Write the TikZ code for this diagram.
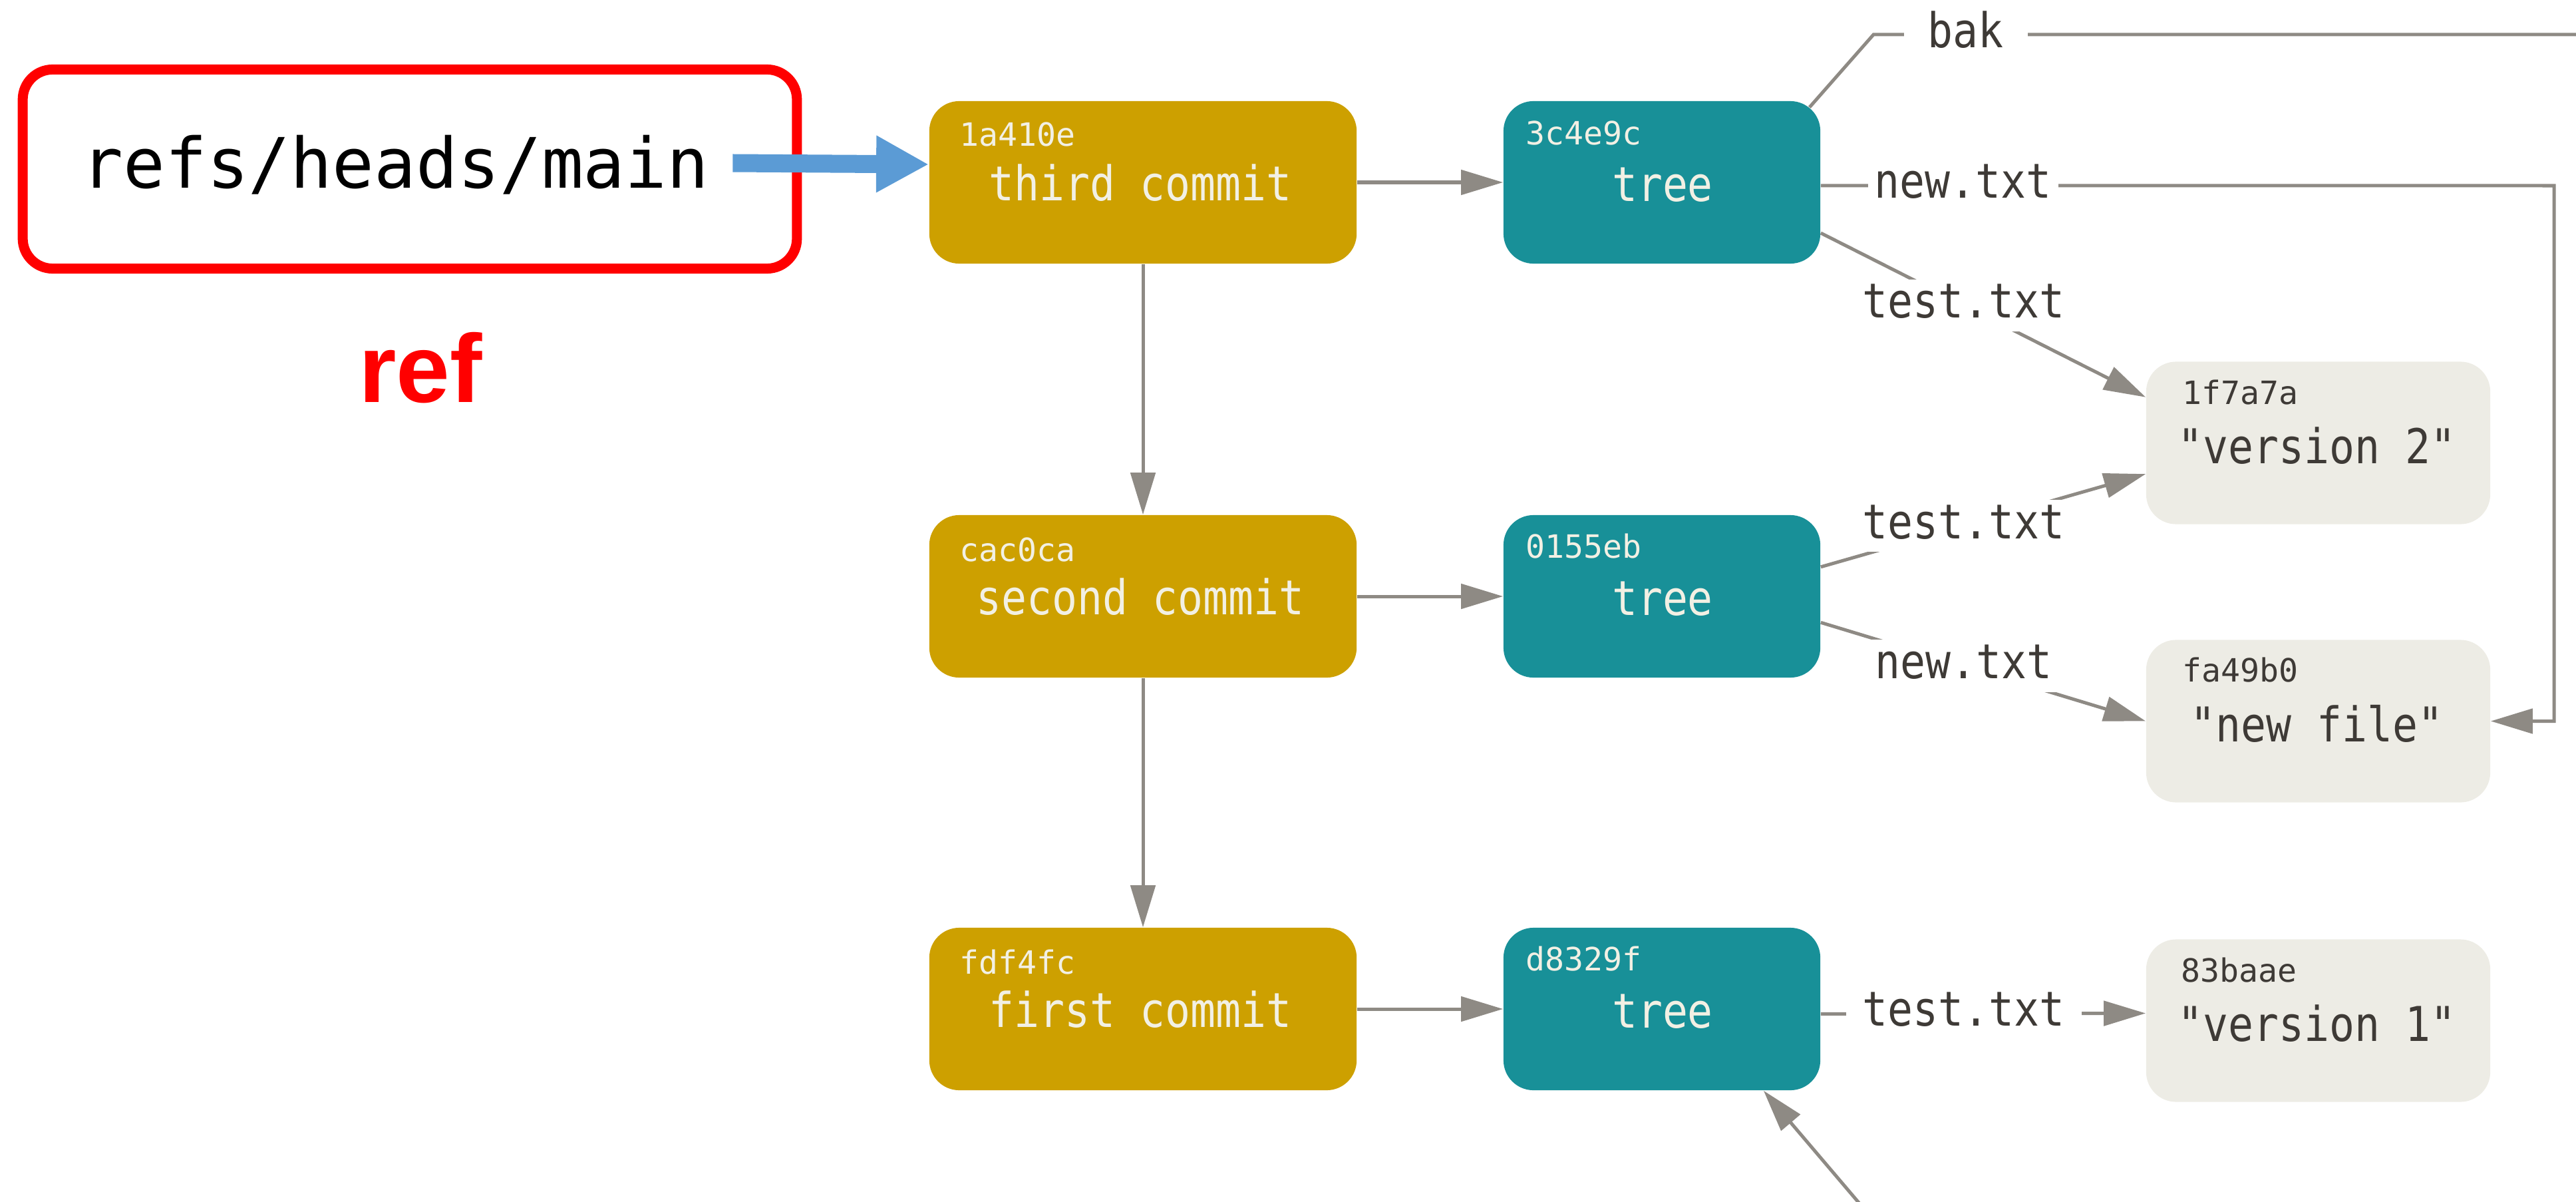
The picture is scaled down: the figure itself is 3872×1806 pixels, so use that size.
\documentclass[tikz,border=0pt]{standalone}
\usepackage{fontspec}
\setmainfont{Liberation Sans}
% condensed mono for object labels and path names
\setmonofont[FakeStretch=0.875]{DejaVu Sans Mono}
% regular mono for hashes and the ref path
\newfontfamily\gitmono{DejaVu Sans Mono}
\usetikzlibrary{arrows.meta,calc}

\definecolor{commitgold}{HTML}{CDA000}
\definecolor{treeteal}{HTML}{189098}
\definecolor{blobgray}{HTML}{EDECE5}
\definecolor{linegray}{HTML}{8E8A84}
\definecolor{darktext}{HTML}{3E3A36}
\definecolor{lighttext}{HTML}{F2F0E4}
\definecolor{refblue}{HTML}{5B9BD5}

\begin{document}
\begin{tikzpicture}[
  x=0.01cm, y=-0.01cm,
  objbox/.style={rounded corners=0.45cm, minimum height=2.44cm, inner sep=0pt, draw=none},
  commitbox/.style={objbox, fill=commitgold, minimum width=6.42cm},
  treebox/.style={objbox, fill=treeteal, minimum width=4.76cm},
  blobbox/.style={objbox, fill=blobgray, minimum width=5.17cm},
  hashtxt/.style={font=\gitmono\fontsize{13.7pt}{16pt}\selectfont, anchor=base west, inner sep=0pt},
  lighthash/.style={hashtxt, text=lighttext},
  darkhash/.style={hashtxt, text=darktext},
  maintxt/.style={font=\ttfamily\fontsize{20.5pt}{24pt}\selectfont, anchor=base, inner sep=0pt},
  lightmain/.style={maintxt, text=lighttext},
  darkmain/.style={maintxt, text=darktext},
  edgetxt/.style={font=\ttfamily\fontsize{20.5pt}{24pt}\selectfont, text=darktext, fill=white,
                  inner xsep=0.1cm, inner ysep=0.2cm, text height=0.38cm, text depth=0pt},
  conn/.style={draw=linegray, line width=0.05cm},
  arr/.style={conn, -{Triangle[length=0.63cm, width=0.37cm]}},
  refarrow/.style={draw=refblue, line width=0.27cm, -{Triangle[length=0.79cm, width=0.80cm]}}
]
\useasboundingbox (0,0) rectangle (3872,1806);
\clip (0,0) rectangle (3872,1806);

% the ref
\node[draw=red, line width=0.15cm, rounded corners=0.45cm, minimum width=11.63cm,
      minimum height=2.99cm, inner sep=0pt] (refbox) at (616,254) {};
\node[font=\gitmono\fontsize{29.7pt}{36pt}\selectfont, anchor=base, inner sep=0pt]
      (reftext) at (594,282) {refs/heads/main};
\node[font=\bfseries\fontsize{41.3pt}{48pt}\selectfont, text=red, anchor=base, inner sep=0pt]
      (reflabel) at (632,604) {ref};

% commits
\node[commitbox] (c3) at (1718,274) {};
\node[commitbox] (c2) at (1718,896) {};
\node[commitbox] (c1) at (1718,1516) {};
% trees
\node[treebox] (t3) at (2498,274) {};
\node[treebox] (t2) at (2498,896) {};
\node[treebox] (t1) at (2498,1516) {};
% blobs
\node[blobbox] (b2) at (3484.5,665.5) {};
\node[blobbox] (bn) at (3484.5,1083.5) {};
\node[blobbox] (b1) at (3484.5,1533.5) {};

% hashes
\node[lighthash] (h-c3) at ([shift={(46,68)}]c3.north west) {1a410e};
\node[lighthash] (h-c2) at ([shift={(46,70)}]c2.north west) {cac0ca};
\node[lighthash] (h-c1) at ([shift={(46,70)}]c1.north west) {fdf4fc};
\node[lighthash] (h-t3) at ([shift={(34,66)}]t3.north west) {3c4e9c};
\node[lighthash] (h-t2) at ([shift={(34,65)}]t2.north west) {0155eb};
\node[lighthash] (h-t1) at ([shift={(34,65)}]t1.north west) {d8329f};
\node[darkhash] (h-b2) at ([shift={(55,65)}]b2.north west) {1f7a7a};
\node[darkhash] (h-bn) at ([shift={(55,64)}]bn.north west) {fa49b0};
\node[darkhash] (h-b1) at ([shift={(53,65)}]b1.north west) {83baae};

% object labels
\node[lightmain] (l-c3) at ([shift={(-4,27)}]c3.center) {third commit};
\node[lightmain] (l-c2) at ([shift={(-4,27)}]c2.center) {second commit};
\node[lightmain] (l-c1) at ([shift={(-4,27)}]c1.center) {first commit};
\node[lightmain] (l-t3) at ([shift={(1,28)}]t3.center) {tree};
\node[lightmain] (l-t2) at ([shift={(1,28)}]t2.center) {tree};
\node[lightmain] (l-t1) at ([shift={(1,28)}]t1.center) {tree};
\node[darkmain] (l-b2) at ([shift={(-2,31)}]b2.center) {"version 2"};
\node[darkmain] (l-bn) at ([shift={(-2,31)}]bn.center) {"new file"};
\node[darkmain] (l-b1) at ([shift={(-2,31)}]b1.center) {"version 1"};

% ref points at the latest commit
\coordinate (refout) at ([shift={(-104,-9)}]refbox.east);
\draw[refarrow] (refout) -- ($(c3.north west)!0.39!(c3.south west)$);

% commit history
\draw[arr] (c3) -- (c2);
\draw[arr] (c2) -- (c1);

% commits to their trees
\draw[arr] (c3) -- (t3);
\draw[arr] (c2) -- (t2);
\draw[arr] (c1) -- (t1);

% entries of tree 3c4e9c
\coordinate (bakbend) at (2816,52);
\coordinate (bakend) at (3900,52);
\draw[conn] ([shift={(-17,10)}]t3.north east) -- (bakbend)
  -- node[edgetxt, pos=0.128, inner xsep=0.36cm] {bak} (bakend);
\coordinate (newbend) at (3839,279);
\draw[arr] ($(t3.north east)!0.52!(t3.south east)$)
  -- node[edgetxt, pos=0.194] {new.txt} (newbend) |- (bn.east);
\draw[arr] ($(t3.north east)!0.81!(t3.south east)$)
  -- node[edgetxt, pos=0.44] {test.txt} ($(b2.north west)!0.22!(b2.south west)$);

% entries of tree 0155eb
\draw[arr] ($(t2.north east)!0.32!(t2.south east)$)
  -- node[edgetxt, pos=0.44] {test.txt} ($(b2.north west)!0.69!(b2.south west)$);
\draw[arr] ($(t2.north east)!0.66!(t2.south east)$)
  -- node[edgetxt, pos=0.44] {new.txt} (bn.west);

% entry of tree d8329f
\draw[arr] ($(t1.north east)!0.53!(t1.south east)$)
  -- node[edgetxt, pos=0.44, inner xsep=0.25cm] {test.txt} ($(b1.north west)!0.455!(b1.south west)$);

% incoming link from the bak tree below
\coordinate (bakin) at (2822,1840);
\draw[arr] (bakin) -- ($(t1.south west)!0.82!(t1.south east)$);
\end{tikzpicture}
\end{document}
